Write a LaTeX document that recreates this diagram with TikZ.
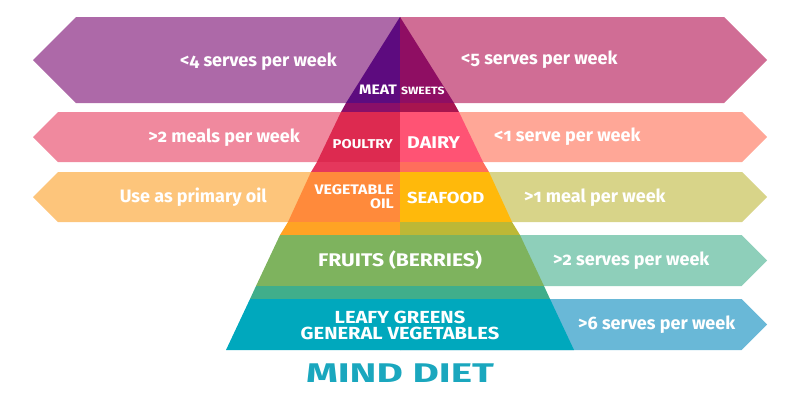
\documentclass[tikz,border=0pt]{standalone}
\usepackage{fontspec}
\setmainfont{Fira Sans}[Numbers=OldStyle]
\usepackage{xcolor}
\usepackage{graphicx}
\definecolor{purpA}{HTML}{AD69A8}
\definecolor{pinkA}{HTML}{D06D95}
\definecolor{roseA}{HTML}{F0899E}
\definecolor{salmA}{HTML}{FFA797}
\definecolor{sandA}{HTML}{FDC57B}
\definecolor{khakA}{HTML}{D8D489}
\definecolor{mintA}{HTML}{8ECFBA}
\definecolor{skyA}{HTML}{69B8D7}
\definecolor{meat}{HTML}{5D0B7F}
\definecolor{sweets}{HTML}{8F0E63}
\definecolor{gapA}{HTML}{8A0F68}
\definecolor{gapB}{HTML}{A8154F}
\definecolor{poultry}{HTML}{DD2A50}
\definecolor{dairy}{HTML}{FF5374}
\definecolor{gapC}{HTML}{E5375C}
\definecolor{gapD}{HTML}{FF6E5C}
\definecolor{oil}{HTML}{FF8A3B}
\definecolor{seafood}{HTML}{FFB90B}
\definecolor{gapE}{HTML}{FFA324}
\definecolor{gapF}{HTML}{BDB836}
\definecolor{fruits}{HTML}{7EB35E}
\definecolor{gapG}{HTML}{40AE8B}
\definecolor{leafy}{HTML}{00A8BD}
\definecolor{titleC}{HTML}{1AA7BE}
\newcommand{\wide}[1]{\scalebox{1.15}[1]{#1}}
\tikzstyle{freq}=[text=white, inner sep=0pt, font=\fontsize{18}{20}\selectfont\bfseries]
\tikzstyle{food}=[text=white, inner sep=0pt]

\begin{document}
\begin{tikzpicture}[x=1pt,y=-1pt]
\useasboundingbox (0,0) rectangle (800,400);
% arrows pointing left
\foreach \t/\b/\c in {17/103/purpA,112/162/roseA,172/222/sandA}
  \fill[\c] (400,\t) -- ({33+(\b-\t)/2},\t) -- (33,{(\t+\b)/2}) -- ({33+(\b-\t)/2},\b) -- (400,\b) -- cycle;
% arrows pointing right
\foreach \t/\b/\c in {17/103/pinkA,112/162/salmA,172/222/khakA,235/286/mintA,299/350/skyA}
  \fill[\c] (400,\t) -- ({767-(\b-\t)/2},\t) -- (767,{(\t+\b)/2}) -- ({767-(\b-\t)/2},\b) -- (400,\b) -- cycle;
% pyramid, left and right halves
\foreach \t/\b/\u/\v/\cl/\cr in {17/103/0/54/meat/sweets,103/112/54/59/gapA/gapB,
    112/162/59/83/poultry/dairy,162/172/83/89/gapC/gapD,172/222/89/112/oil/seafood,
    222/235/112/120/gapE/gapF,235/286/120/144/fruits/fruits,286/299/144/150/gapG/gapG,
    299/350/150/174/leafy/leafy}
{
  \fill[\cl] ({400-\u},\t) -- ({400-\v},\b) -- (400.4,\b) -- (400.4,\t) -- cycle;
  \fill[\cr] ({400+\u},\t) -- ({400+\v},\b) -- (400,\b) -- (400,\t) -- cycle;
}
% how often
\node[freq, anchor=base east] (meatfreq) at (337,66) {<4 serves per week};
\node[freq, anchor=base west] (sweetfreq) at (461,64) {<5 serves per week};
\node[freq, anchor=base east] (poulfreq) at (300,142) {>2 meals per week};
\node[freq, anchor=base west] (dairyfreq) at (494,141) {<1 serve per week};
\node[freq, anchor=base east] (oilfreq) at (267,202) {Use as primary oil};
\node[freq, anchor=base west] (seafreq) at (524,202) {>1 meal per week};
\node[freq, anchor=base west] (fruitfreq) at (553,265) {>2 serves per week};
\node[freq, anchor=base west] (leafyfreq) at (578,329) {>6 serves per week};
% food groups
\node[food, anchor=base east, font=\fontsize{13.7}{15}\selectfont\bfseries] (meatlbl) at (397,94) {\wide{MEAT}};
\node[food, anchor=base west, font=\fontsize{10.6}{12}\selectfont\bfseries] (sweetlbl) at (401,94) {\wide{SWEETS}};
\node[food, anchor=base east, font=\fontsize{12.8}{15}\selectfont\bfseries] (poullbl) at (393,148) {\wide{POULTRY}};
\node[food, anchor=base west, font=\fontsize{17}{19}\selectfont\bfseries] (dairylbl) at (407,148) {\wide{DAIRY}};
\node[food, anchor=east, align=right, font=\fontsize{13.8}{14}\selectfont\bfseries] (oillbl) at (394,197) {\wide{VEGETABLE}\\\wide{OIL}};
\node[food, anchor=base west, font=\fontsize{16}{18}\selectfont\bfseries] (sealbl) at (407,203) {\wide{SEAFOOD}};
\node[food, anchor=base, font=\fontsize{18.3}{20}\selectfont\bfseries] (fruitlbl) at (400,266) {\wide{FRUITS (BERRIES)}};
\node[food, anchor=base, font=\fontsize{17.5}{18}\selectfont\bfseries] (leafylbl) at (400,323) {\wide{LEAFY GREENS}};
\node[food, anchor=base, font=\fontsize{17.5}{18}\selectfont\bfseries] (veglbl) at (400,339) {\wide{GENERAL VEGETABLES}};
\node[inner sep=0pt, text=titleC, font=\fontsize{27}{29}\selectfont\bfseries] (title) at (400,373) {\scalebox{1.5}[1]{MIND DIET}};
\end{tikzpicture}
\end{document}
